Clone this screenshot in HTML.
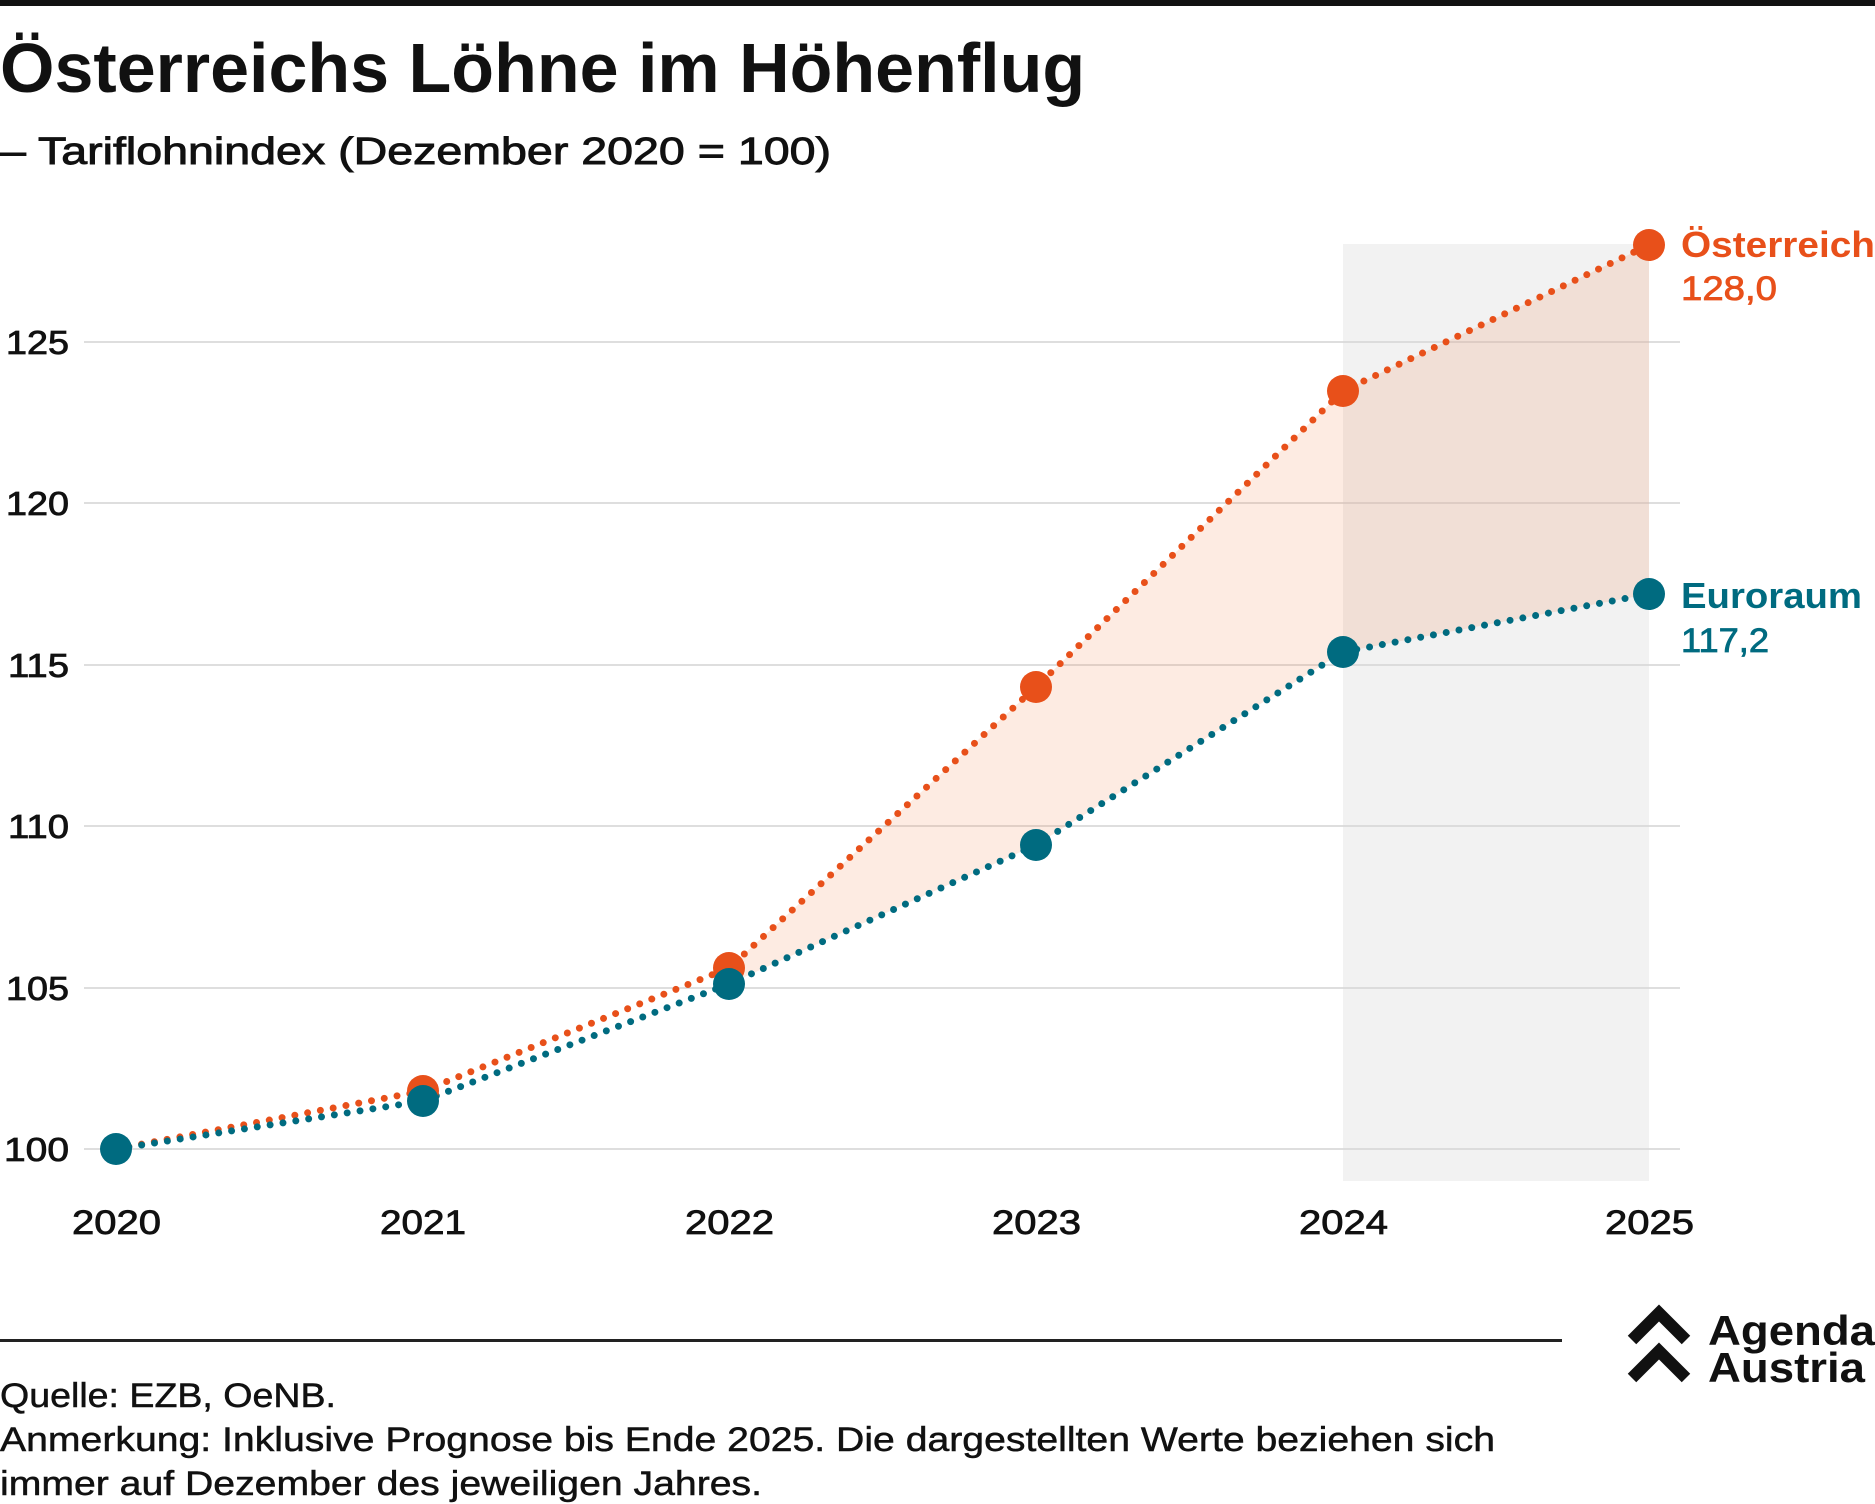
<!DOCTYPE html>
<html><head><meta charset="utf-8"><style>
body{margin:0;background:#fff;}
svg{display:block;font-family:"Liberation Sans",sans-serif;}
</style></head><body>
<svg width="1875" height="1504" viewBox="0 0 1875 1504">
<rect x="0" y="0" width="1875" height="6" fill="#111"/>
<text x="0" y="92" font-size="70" font-weight="bold" fill="#111">Österreichs Löhne im Höhenflug</text>
<text x="0" y="164" font-size="38" fill="#111" stroke="#111" stroke-width="0.9" textLength="831" lengthAdjust="spacingAndGlyphs">– Tariflohnindex (Dezember 2020 = 100)</text>
<rect x="1343" y="244" width="306" height="937" fill="#f2f2f2"/>
<g stroke="#d4d4d4" stroke-width="1.5">
<line x1="84" y1="342" x2="1680" y2="342"/>
<line x1="84" y1="503" x2="1680" y2="503"/>
<line x1="84" y1="665" x2="1680" y2="665"/>
<line x1="84" y1="826" x2="1680" y2="826"/>
<line x1="84" y1="988" x2="1680" y2="988"/>
<line x1="84" y1="1149" x2="1680" y2="1149"/>
</g>
<g font-size="33" fill="#111" stroke="#111" stroke-width="0.8">
<text x="6" y="354" textLength="63" lengthAdjust="spacingAndGlyphs">125</text>
<text x="6" y="515" textLength="63" lengthAdjust="spacingAndGlyphs">120</text>
<text x="8" y="677" textLength="61" lengthAdjust="spacingAndGlyphs">115</text>
<text x="8" y="838" textLength="61" lengthAdjust="spacingAndGlyphs">110</text>
<text x="6" y="1000" textLength="63" lengthAdjust="spacingAndGlyphs">105</text>
<text x="4" y="1161" textLength="65" lengthAdjust="spacingAndGlyphs">100</text>
</g>
<g font-size="34" fill="#111" stroke="#111" stroke-width="0.8">
<text x="72" y="1234" textLength="89" lengthAdjust="spacingAndGlyphs">2020</text>
<text x="380" y="1234" textLength="86" lengthAdjust="spacingAndGlyphs">2021</text>
<text x="685" y="1234" textLength="89" lengthAdjust="spacingAndGlyphs">2022</text>
<text x="992" y="1234" textLength="89" lengthAdjust="spacingAndGlyphs">2023</text>
<text x="1299" y="1234" textLength="89" lengthAdjust="spacingAndGlyphs">2024</text>
<text x="1605" y="1234" textLength="89" lengthAdjust="spacingAndGlyphs">2025</text>
</g>
<polygon points="729,968 1036,687 1343,391 1649,245 1649,594 1343,652 1036,845 729,984" fill="rgba(240,110,50,0.14)"/>
<polyline points="116,1149 423,1091 729,968 1036,687 1343,391 1649,245" fill="none" stroke="#e8501a" stroke-width="7" stroke-linecap="round" stroke-dasharray="0 13"/>
<polyline points="116,1149 423,1101 729,984 1036,845 1343,652 1649,594" fill="none" stroke="#006b80" stroke-width="7" stroke-linecap="round" stroke-dasharray="0 13"/>
<g fill="#e8501a">
<circle cx="423" cy="1091" r="16"/><circle cx="729" cy="968" r="16"/><circle cx="1036" cy="687" r="16"/>
<circle cx="1343" cy="391" r="16"/><circle cx="1649" cy="245" r="16"/>
</g>
<g fill="#006b80">
<circle cx="116" cy="1149" r="16"/><circle cx="423" cy="1101" r="16"/><circle cx="729" cy="984" r="16"/>
<circle cx="1036" cy="845" r="16"/><circle cx="1343" cy="652" r="16"/><circle cx="1649" cy="594" r="16"/>
</g>
<text x="1681" y="257" font-size="36" font-weight="bold" fill="#e8501a" textLength="194" lengthAdjust="spacingAndGlyphs">Österreich</text>
<text x="1681" y="300" font-size="34" fill="#e8501a" stroke="#e8501a" stroke-width="0.8" textLength="96" lengthAdjust="spacingAndGlyphs">128,0</text>
<text x="1681" y="608" font-size="36" font-weight="bold" fill="#006b80" textLength="181" lengthAdjust="spacingAndGlyphs">Euroraum</text>
<text x="1681" y="652" font-size="34" fill="#006b80" stroke="#006b80" stroke-width="0.8" textLength="88" lengthAdjust="spacingAndGlyphs">117,2</text>
<rect x="0" y="1339" width="1562" height="3" fill="#222"/>
<g font-size="34" fill="#111" stroke="#111" stroke-width="0.5">
<text x="0" y="1407" textLength="336" lengthAdjust="spacingAndGlyphs">Quelle: EZB, OeNB.</text>
<text x="0" y="1451" textLength="1495" lengthAdjust="spacingAndGlyphs">Anmerkung: Inklusive Prognose bis Ende 2025. Die dargestellten Werte beziehen sich</text>
<text x="0" y="1495" textLength="762" lengthAdjust="spacingAndGlyphs">immer auf Dezember des jeweiligen Jahres.</text>
</g>
<g fill="none" stroke="#111" stroke-width="12" stroke-linejoin="miter">
<polyline points="1632,1340 1659,1313 1686,1340"/>
<polyline points="1632,1378 1659,1351 1686,1378"/>
</g>
<text x="1708" y="1345" font-size="42" font-weight="bold" fill="#111" textLength="167" lengthAdjust="spacingAndGlyphs">Agenda</text>
<text x="1708" y="1382" font-size="42" font-weight="bold" fill="#111" textLength="157" lengthAdjust="spacingAndGlyphs">Austria</text>
</svg>
</body></html>
